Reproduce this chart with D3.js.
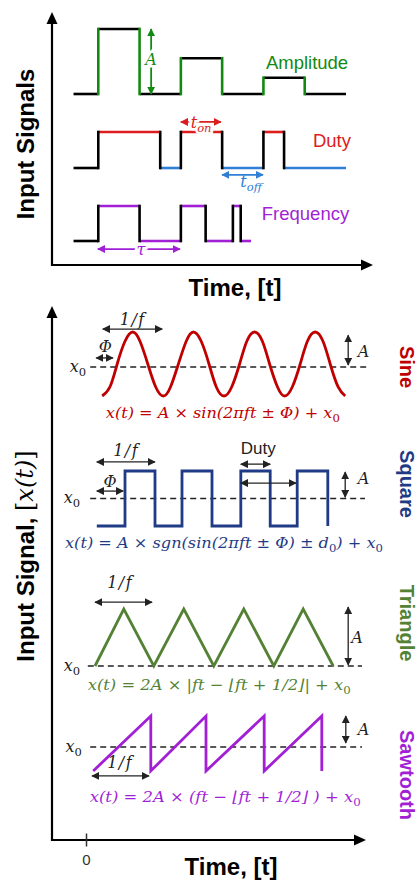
<!DOCTYPE html>
<html>
<head>
<meta charset="utf-8">
<script src="https://cdn.jsdelivr.net/npm/d3@7"></script>
<style>
    body { margin: 0; background: #fff; }
    svg { display: block; font-family: "Liberation Sans", Arial, sans-serif; }
    .math { font-family: "DejaVu Serif", "Liberation Serif", serif; font-style: italic; }
</style>
</head>
<body>
<div id="chart"></div>
<script>
// ---- values ----

// top panel: time of each edge, and the level held after that edge
const ampTimes   = [0.4, 1, 2, 3, 4, 5, 6, 7];
const ampLevels  = [0, 1, 0, 0.55, 0, 0.25, 0];
const dutyTimes  = [0.4, 1, 2.5, 3, 4, 5, 5.5, 7];
const dutyLevels = [0, 1, 0, 1, 0, 1, 0];
const freqTimes  = [0.4, 1, 2, 3, 3.6, 4.26, 4.45, 4.7];
const freqLevels = [0, 1, 0, 1, 0, 1, 0];
const topLabels  = ["Amplitude", "Duty", "Frequency"];

// bottom panel: one period is roughly one time unit
const sineT = [0.27, 0.40, 0.52, 0.65, 0.78, 0.90, 1.03, 1.16,
               1.29, 1.41, 1.54, 1.67, 1.79, 1.92, 2.05, 2.17,
               2.30, 2.43, 2.56, 2.68, 2.81, 2.94, 3.06, 3.19,
               3.31, 3.44, 3.57, 3.69, 3.82, 3.95, 4.07, 4.20, 4.32];
const sineV = [-1, -0.71, 0, 0.71, 1, 0.71, 0, -0.71,
               -1, -0.71, 0, 0.71, 1, 0.71, 0, -0.71,
               -1, -0.71, 0, 0.71, 1, 0.71, 0, -0.71,
               -1, -0.71, 0, 0.71, 1, 0.71, 0, -0.71, -1];
const squareT = [0.18, 0.65, 1.15, 1.6, 2.1, 2.58, 3.07, 3.52, 4.03];
const squareV = [-1, 1, -1, 1, -1, 1, -1, 1, -1];
const triT = [0.15, 0.63, 1.13, 1.63, 2.13, 2.63, 3.13, 3.62, 4.12];
const triV = [0, 1, 0, 1, 0, 1, 0, 1, 0];
const sawT = [0.12, 1.08, 1.08, 2.0, 2.0, 2.97, 2.97, 3.93, 3.93];
const sawV = [-1, 1, -1, 1, -1, 1, -1, 1, -1];
const waveNames = ["Sine", "Square", "Triangle", "Sawtooth"];
const timeTicks = [0];

const C = {
    green: "#128a12", red: "#dd1d1d", blue: "#2f7fd6", purple: "#a11fd4",
    sine: "#c00000", square: "#1f3b86", tri: "#548235", saw: "#a31fd6", ink: "#222"
};

const svg = d3.select("#chart").append("svg")
    .attr("width", 420)
    .attr("height", 880);

const defs = svg.append("defs");
function addMarker(id, color) {
    defs.append("marker")
        .attr("id", id)
        .attr("viewBox", "0 -5 10 10")
        .attr("refX", 9)
        .attr("refY", 0)
        .attr("markerWidth", 8)
        .attr("markerHeight", 8)
        .attr("markerUnits", "userSpaceOnUse")
        .attr("orient", "auto-start-reverse")
        .append("path")
        .attr("d", "M0,-5L10,0L0,5Z")
        .attr("fill", color);
}
["ink", "green", "red", "blue", "purple"].forEach(k => addMarker("m-" + k, C[k]));

function dblArrow(g, x1, y1, x2, y2, key, w) {
    g.append("line")
        .attr("x1", x1).attr("y1", y1).attr("x2", x2).attr("y2", y2)
        .attr("stroke", C[key])
        .attr("stroke-width", w || 1.3)
        .attr("marker-start", "url(#m-" + key + ")")
        .attr("marker-end", "url(#m-" + key + ")");
}

// parts: [[text, isSubscript], ...]
function mathLabel(g, x, y, parts, o) {
    o = o || {};
    const size = o.size || 16;
    const t = g.append("text")
        .attr("x", x).attr("y", y)
        .attr("class", o.sans ? null : "math")
        .attr("text-anchor", o.anchor || "middle")
        .attr("font-size", size)
        .attr("fill", o.color || C.ink);
    if (o.len) t.attr("textLength", o.len).attr("lengthAdjust", "spacingAndGlyphs");
    if (o.spacing) t.attr("letter-spacing", o.spacing);
    if (o.halo) t.attr("stroke", "#fff").attr("stroke-width", 5).attr("paint-order", "stroke");
    let low = false;
    parts.forEach(function(p) {
        const ts = t.append("tspan").text(p[0]);
        if (p[1] && !low) {
            ts.attr("dy", size * 0.25).attr("font-size", size * 0.72);
            if (/^\d+$/.test(p[0])) ts.style("font-style", "normal");
            low = true;
        } else if (!p[1] && low) {
            ts.attr("dy", -size * 0.25);
            low = false;
        }
    });
    return t;
}

function axisArrows(x0, y0, yTip, xTip) {
    const g = svg.append("g");
    g.append("line").attr("x1", x0).attr("x2", x0).attr("y1", y0 + 1).attr("y2", yTip + 10)
        .attr("stroke", "#000").attr("stroke-width", 2.2);
    g.append("line").attr("x1", x0 - 1).attr("x2", xTip - 10).attr("y1", y0).attr("y2", y0)
        .attr("stroke", "#000").attr("stroke-width", 2.2);
    g.append("path")
        .attr("d", `M${x0},${yTip}L${x0 - 5.5},${yTip + 12}L${x0 + 5.5},${yTip + 12}Z`);
    g.append("path")
        .attr("d", `M${xTip},${y0}L${xTip - 12},${y0 - 5.5}L${xTip - 12},${y0 + 5.5}Z`);
}

function sideTitle(x, y, rot, text, size, color) {
    return svg.append("text")
        .attr("transform", `translate(${x},${y}) rotate(${rot})`)
        .attr("text-anchor", "middle")
        .attr("dominant-baseline", "central")
        .attr("font-weight", "bold")
        .attr("font-size", size)
        .attr("fill", color || "#000")
        .text(text);
}

// =================== top panel ===================
const xT = d3.scaleLinear().domain([0, 7]).range([57, 346]);

axisArrows(52, 265, 12, 373);
sideTitle(25, 144, -90, "Input Signals", 24);
svg.append("text")
    .attr("x", 235).attr("y", 296)
    .attr("text-anchor", "middle")
    .attr("font-weight", "bold")
    .attr("font-size", 24)
    .text("Time, [t]");

const topRows = [
    { times: ampTimes, levels: ampLevels, y: d3.scaleLinear().domain([0, 1]).range([94, 29]),
      hColor: () => "#000", vColor: C.green, color: C.green, labelT: 5.06, labelV: 0.39 },
    { times: dutyTimes, levels: dutyLevels, y: d3.scaleLinear().domain([0, 1]).range([168, 132]),
      hColor: (lv, i) => i === 0 ? "#000" : (lv ? C.red : C.blue), vColor: "#000", color: C.red,
      labelT: 6.2, labelV: 0.58 },
    { times: freqTimes, levels: freqLevels, y: d3.scaleLinear().domain([0, 1]).range([241, 206]),
      hColor: (lv, i) => i === 0 ? "#000" : C.purple, vColor: "#000", color: C.purple,
      labelT: 4.96, labelV: 0.6 }
];

topRows.forEach(function(r, k) {
    const g = svg.append("g");
    const hs = r.levels.map((lv, i) => ({ a: r.times[i], b: r.times[i + 1], lv: lv, i: i }));
    const vs = r.levels.slice(1).map((lv, i) => ({ t: r.times[i + 1], from: r.levels[i], to: lv }));

    g.selectAll(".h").data(hs).join("line")
        .attr("x1", d => xT(d.a)).attr("x2", d => xT(d.b))
        .attr("y1", d => r.y(d.lv)).attr("y2", d => r.y(d.lv))
        .attr("stroke", d => r.hColor(d.lv, d.i))
        .attr("stroke-width", 2.6);
    g.selectAll(".v").data(vs).join("line")
        .attr("x1", d => xT(d.t)).attr("x2", d => xT(d.t))
        .attr("y1", d => r.y(d.from)).attr("y2", d => r.y(d.to))
        .attr("stroke", r.vColor)
        .attr("stroke-width", 2.6)
        .attr("stroke-linecap", "square");

    g.append("text")
        .attr("x", xT(r.labelT)).attr("y", r.y(r.labelV))
        .attr("font-size", 18.5)
        .attr("fill", r.color)
        .text(topLabels[k]);
});

// top annotations
const ta = svg.append("g");
const yA = topRows[0].y, yD = topRows[1].y, yF = topRows[2].y;
dblArrow(ta, xT(2.28), yA(1), xT(2.28), yA(0), "green", 1.8);
mathLabel(ta, xT(2.28), yA(0.45), [["A"]], { color: C.green, halo: true });
dblArrow(ta, xT(3.0), yD(1.28), xT(3.97), yD(1.28), "red", 1.8);
mathLabel(ta, xT(3.49), yD(1.11), [["t"], ["on", true]], { color: C.red, halo: true });
dblArrow(ta, xT(4.0), yD(-0.19), xT(4.99), yD(-0.19), "blue", 1.8);
mathLabel(ta, xT(4.7), yD(-0.53), [["t"], ["off", true]], { color: C.blue });
dblArrow(ta, xT(0.99), yF(-0.23), xT(2.98), yF(-0.23), "purple", 1.8);
mathLabel(ta, xT(2.03), yF(-0.4), [["τ"]], { color: C.purple, halo: true });

// =================== bottom panel ===================
const xB = d3.scaleLinear().domain([0, 1]).range([86, 146]);

axisArrows(52, 840, 306, 366);
const yTitle = sideTitle(25, 556, -90, null, 24);
yTitle.append("tspan").text("Input Signal, ");
yTitle.append("tspan").attr("class", "math").style("font-weight", "normal").style("font-style", "normal").text("[");
yTitle.append("tspan").attr("class", "math").style("font-weight", "normal").text("x(t)");
yTitle.append("tspan").attr("class", "math").style("font-weight", "normal").style("font-style", "normal").text("]");

svg.append("text")
    .attr("x", 231).attr("y", 875)
    .attr("text-anchor", "middle")
    .attr("font-weight", "bold")
    .attr("font-size", 24)
    .text("Time, [t]");

const xAxisB = d3.axisBottom(xB).tickValues(timeTicks).tickSize(13).tickFormat(d3.format("d"));
const axB = svg.append("g")
    .attr("transform", "translate(0,833.5)")
    .call(xAxisB)
    .attr("font-family", null)
    .attr("font-size", null);
axB.select(".domain").remove();
axB.selectAll(".tick line").attr("stroke", "#333").attr("stroke-width", 1.5);
axB.selectAll(".tick text").attr("y", 21).attr("font-size", 15).attr("fill", "#333");

const waves = [
    { t: sineT, v: sineV, color: C.sine, y: d3.scaleLinear().domain([-1, 1]).range([396, 332]),
      curve: d3.curveNatural, x0: -0.09, dash: [0.07, 4.67], x0Label: [0, -0.25], titleY: 367,
      formula: [["x(t) = A × sin(2πft ± Φ) + x"], ["0", true]], fT: 2.28, fV: -1.69, fLen: 234,
      arrows: [[0.28, 1.27, 1.09], [0.17, 0.45, 0.19]], vArrow: [4.37, 0.9, -0.03],
      labels: [[["1/f"]], 0.78, 1.22], phi: [0.32, 0.375], aLabel: [4.53, 0.22] },
    { t: squareT, v: squareV, color: C.square, y: d3.scaleLinear().domain([-1, 1]).range([526, 471]),
      curve: d3.curveStepAfter, x0: 0, dash: [0.07, 4.65], x0Label: [-0.1, -0.16], titleY: 484,
      formula: [["x(t) = A × sgn(sin(2πft ± Φ) ± d"], ["0", true], [") + x"], ["0", true]],
      fT: 2.3, fV: -1.8, fLen: 318,
      arrows: [[0.18, 1.15, 1.33], [2.58, 3.07, 1.25], [2.58, 3.5, 0.56], [0.18, 0.62, 0.27]],
      vArrow: [4.32, 0.96, 0.05],
      labels: [[["1/f"]], 0.67, 1.55], phi: [0.4, 0.42], aLabel: [4.53, 0.53], duty: [2.87, 1.62] },
    { t: triT, v: triV, color: C.tri, y: d3.scaleLinear().domain([0, 1]).range([666, 609]),
      curve: d3.curveLinear, x0: 0, dash: [0.03, 4.6], x0Label: [-0.1, -0.09], titleY: 623,
      formula: [["x(t) = 2A × |ft − ⌊ft + 1/2⌋| + x"], ["0", true]], fT: 2.22, fV: -0.42, fLen: 263,
      arrows: [[0.15, 1.1, 1.12]], vArrow: [4.37, 1.035, 0.02],
      labels: [[["1/f"]], 0.57, 1.37], aLabel: [4.42, 0.4] },
    { t: sawT, v: sawV, color: C.saw, y: d3.scaleLinear().domain([-1, 1]).range([771, 716]),
      curve: d3.curveLinear, x0: -0.13, dash: [0.07, 4.6], x0Label: [-0.07, -0.31], titleY: 775,
      formula: [["x(t) = 2A × (ft − ⌊ft + 1/2⌋ ) + x"], ["0", true]], fT: 2.32, fV: -2.13, fLen: 271,
      arrows: [[0.1, 1.05, -1.18]], vArrow: [4.33, 1, 0.02],
      labels: [[["1/f"]], 0.57, -0.89], aLabel: [4.53, 0.31] }
];

waves.forEach(function(w, k) {
    const g = svg.append("g");
    const pts = w.t.map((t, i) => ({ t: t, v: w.v[i] }));

    // x0 reference
    g.append("line")
        .attr("x1", xB(w.dash[0])).attr("x2", xB(w.dash[1]))
        .attr("y1", w.y(w.x0)).attr("y2", w.y(w.x0))
        .attr("stroke", C.ink)
        .attr("stroke-width", 1.5)
        .attr("stroke-dasharray", "6,4");
    mathLabel(g, xB(w.x0Label[0]), w.y(w.x0Label[1]), [["x"], ["0", true]], { anchor: "end" });

    const line = d3.line()
        .x(d => xB(d.t))
        .y(d => w.y(d.v))
        .curve(w.curve);
    g.append("path")
        .datum(pts)
        .attr("fill", "none")
        .attr("stroke", w.color)
        .attr("stroke-width", 2.8)
        .attr("d", line);

    w.arrows.forEach(a => dblArrow(g, xB(a[0]), w.y(a[2]), xB(a[1]), w.y(a[2]), "ink"));
    dblArrow(g, xB(w.vArrow[0]), w.y(w.vArrow[1]), xB(w.vArrow[0]), w.y(w.vArrow[2]), "ink");

    mathLabel(g, xB(w.labels[1]), w.y(w.labels[2]), w.labels[0], { spacing: 1.5 });
    if (w.phi) mathLabel(g, xB(w.phi[0]), w.y(w.phi[1]), [["Φ"]]);
    mathLabel(g, xB(w.aLabel[0]), w.y(w.aLabel[1]), [["A"]], { anchor: "start" });
    if (w.duty) mathLabel(g, xB(w.duty[0]), w.y(w.duty[1]), [["Duty"]], { sans: true, size: 17 });

    mathLabel(g, xB(w.fT), w.y(w.fV), w.formula, { color: w.color, size: 15, len: w.fLen });

    sideTitle(407, w.titleY, 90, waveNames[k], 20, w.color);
});
</script>
</body>
</html>
